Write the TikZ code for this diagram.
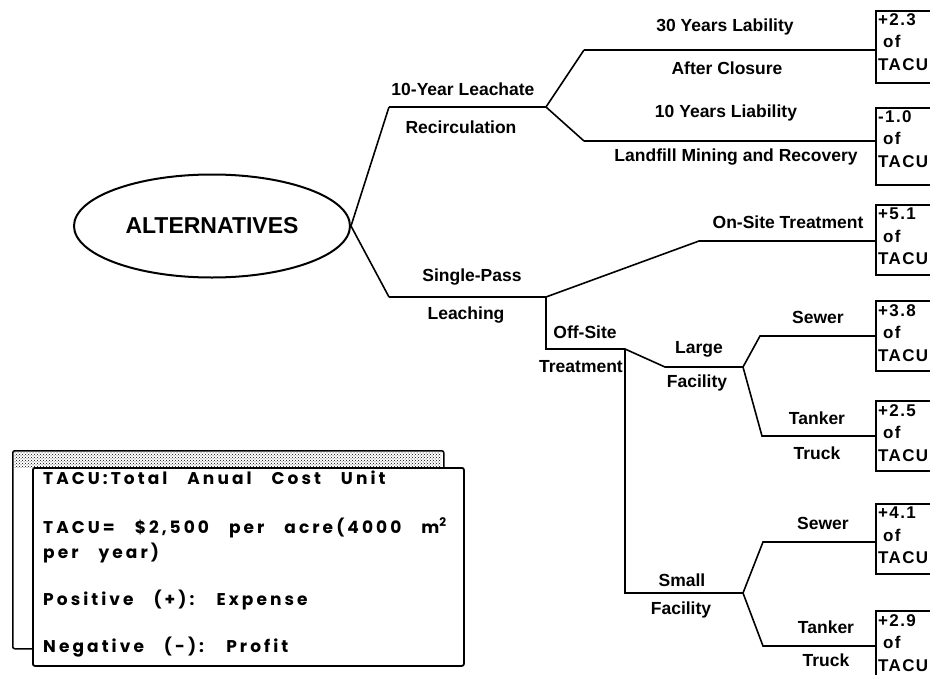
\documentclass[tikz,border=0pt]{standalone}
\usepackage{fontspec}
\setmainfont{Liberation Sans}
\newfontfamily\valfont{Liberation Sans}[LetterSpace=8]
\newfontfamily\legfont{Poppins}[LetterSpace=18, WordSpace=3]
\usetikzlibrary{shapes.geometric,patterns}
\tikzset{
  branch/.style={line width=1.6pt, line join=miter},
  lbl/.style={font=\fontsize{17.5}{20}\selectfont\bfseries, inner sep=0pt},
  valbox/.style={draw, line width=1.5pt, minimum width=90pt, anchor=north west, inner sep=0pt},
  valtxt/.style={font=\valfont\bfseries\fontsize{17}{22.5}\selectfont, align=left, anchor=north west, inner sep=0pt},
  legtxt/.style={font=\legfont\bfseries\fontsize{17}{20}\selectfont, anchor=base west, inner sep=0pt},
}
\begin{document}
\begin{tikzpicture}[x=1pt,y=-1pt]
\useasboundingbox (0,0) rectangle (930,675);
\clip (0,0) rectangle (930,675);

% root
\node[draw, ellipse, line width=2pt, minimum width=276pt, minimum height=103pt,
      font=\fontsize{23}{26}\selectfont\bfseries] (alt) at (212,226) {ALTERNATIVES};

% junctions
\coordinate (p1) at (389,107);
\coordinate (j1) at (546,107);
\coordinate (u1) at (584,50);
\coordinate (u2) at (584,141);
\coordinate (p2) at (389,297);
\coordinate (j2) at (546,297);
\coordinate (u3) at (699,241);
\coordinate (o1) at (546,349);
\coordinate (j3) at (625,349);
\coordinate (l1) at (665,367);
\coordinate (j4) at (743,367);
\coordinate (s1) at (760,336);
\coordinate (t1) at (762,436);
\coordinate (m1) at (625,593);
\coordinate (j5) at (743,593);
\coordinate (s2) at (763,542);
\coordinate (t2) at (763,646);

% result boxes
\node[valbox, minimum height=72pt] (b1) at (875,10) {};
\node[valbox, minimum height=77pt] (b2) at (875,107) {};
\node[valbox, minimum height=70pt] (b3) at (875,204) {};
\node[valbox, minimum height=70pt] (b4) at (875,300) {};
\node[valbox, minimum height=70pt] (b5) at (875,400) {};
\node[valbox, minimum height=70pt] (b6) at (875,503) {};
\node[valbox, minimum height=80pt] (b7) at (875,610) {};

\node[valtxt] (v1) at (878,13) {+2.3\\\hspace{5pt}of\\TACU};
\node[valtxt] (v2) at (878,110) {-1.0\\\hspace{5pt}of\\TACU};
\node[valtxt] (v3) at (878,208) {+5.1\\\hspace{5pt}of\\TACU};
\node[valtxt] (v4) at (878,304) {+3.8\\\hspace{5pt}of\\TACU};
\node[valtxt] (v5) at (878,404) {+2.5\\\hspace{5pt}of\\TACU};
\node[valtxt] (v6) at (878,507) {+4.1\\\hspace{5pt}of\\TACU};
\node[valtxt] (v7) at (878,614) {+2.9\\\hspace{5pt}of\\TACU};

% box entry points
\coordinate (e1) at (b1.west |- u1);
\coordinate (e2) at (b2.west |- u2);
\coordinate (e3) at (b3.west |- u3);
\coordinate (e4) at (b4.west |- s1);
\coordinate (e5) at (b5.west |- t1);
\coordinate (e6) at (b6.west |- s2);
\coordinate (e7) at (b7.west |- t2);

% branches
\draw[branch] (p1) -- (alt.east) -- (p2);
\draw[branch] (p1) -- (j1);
\draw[branch] (u1) -- (j1) -- (u2);
\draw[branch] (u1) -- (e1);
\draw[branch] (u2) -- (e2);
\draw[branch] (p2) -- (j2) -- (u3) -- (e3);
\draw[branch] (j2) -- (o1) -- (j3) -- (l1) -- (j4);
\draw[branch] (e4) -- (s1) -- (j4) -- (t1) -- (e5);
\draw[branch] (j3) -- (m1) -- (j5);
\draw[branch] (e6) -- (s2) -- (j5) -- (t2) -- (e7);

% labels
\node[lbl] (n1) at (463,89) {10-Year Leachate};
\node[lbl] (n2) at (461,127) {Recirculation};
\node[lbl] (n3) at (725,27) {30 Years Lability};
\node[lbl] (n4) at (727,68) {After Closure};
\node[lbl] (n5) at (726,113) {10 Years Liability};
\node[lbl] (n6) at (736,157) {Landfill Mining and Recovery};
\node[lbl] (n7) at (788,222) {On-Site Treatment};
\node[lbl] (n8) at (472,277) {Single-Pass};
\node[lbl] (n9) at (466,315) {Leaching};
\node[lbl] (n10) at (585,332) {Off-Site};
\node[lbl] (n11) at (581,367) {Treatment};
\node[lbl] (n12) at (699,349) {Large};
\node[lbl] (n13) at (697,383) {Facility};
\node[lbl] (n14) at (818,317) {Sewer};
\node[lbl] (n15) at (817,418) {Tanker};
\node[lbl] (n16) at (817,453) {Truck};
\node[lbl] (n17) at (823,523) {Sewer};
\node[lbl] (n18) at (682,580) {Small};
\node[lbl] (n19) at (681,610) {Facility};
\node[lbl] (n20) at (826,627) {Tanker};
\node[lbl] (n21) at (826,660) {Truck};

% legend
\node[draw, line width=1.5pt, rounded corners=2pt, fill=white, minimum width=431pt,
      minimum height=198pt, anchor=north west, inner sep=0pt] (legback) at (12,450) {};
\fill[pattern=crosshatch dots] (14,452) rectangle (441,467);
\node[draw, line width=1.8pt, rounded corners=2pt, fill=white, minimum width=431pt,
      minimum height=198pt, anchor=north west, inner sep=0pt] (legfront) at (32,467) {};
\node[legtxt] (g1) at (43,484) {TACU:Total Anual Cost Unit};
\node[legtxt] (g2) at (43,533) {TACU= \$2,500 per acre(4000 m\textsuperscript{2}};
\node[legtxt] (g3) at (43,558) {per year)};
\node[legtxt] (g4) at (43,605) {Positive (+): Expense};
\node[legtxt] (g5) at (43,652) {Negative (-): Profit};
\end{tikzpicture}
\end{document}
